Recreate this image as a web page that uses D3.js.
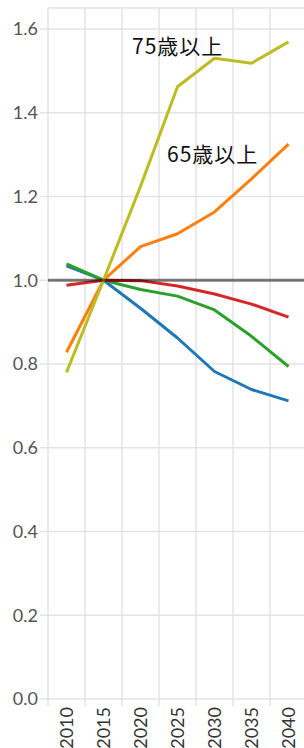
<!DOCTYPE html>
<html>
<head>
<meta charset="utf-8">
<script src="https://cdn.jsdelivr.net/npm/d3@7"></script>
<style>
  body { margin: 0; background: #fff; }
  svg { display: block; }
</style>
</head>
<body>
<svg id="chart" width="304" height="748"></svg>
<script>
const years = ["2010", "2015", "2020", "2025", "2030", "2035", "2040"];
const yTicks = [0, 0.2, 0.4, 0.6, 0.8, 1.0, 1.2, 1.4, 1.6];

const seriesBlue = [1.034, 1.0, 0.933, 0.862, 0.782, 0.739, 0.712];
const seriesOrange = [0.828, 1.0, 1.080, 1.111, 1.163, 1.242, 1.325];
const seriesGreen = [1.039, 1.0, 0.978, 0.962, 0.929, 0.866, 0.794];
const seriesRed = [0.988, 1.0, 0.999, 0.986, 0.967, 0.943, 0.912];
const seriesOlive = [0.780, 1.0, 1.224, 1.462, 1.530, 1.518, 1.569];

const seriesNames = ["blue", "orange", "green", "red", "olive"];
const seriesColors = ["#1f77b4", "#ff7f0e", "#2ca02c", "#d62728", "#bcbd22"];
const seriesValues = [seriesBlue, seriesOrange, seriesGreen, seriesRed, seriesOlive];

const labels = [
  {text: "75歳以上", year: "2020", value: 1.540, dx: 10},
  {text: "65歳以上", year: "2025", value: 1.282, dx: 8}
];

const svg = d3.select("#chart");
const plotLeft = 48, plotRight = 307, plotTop = 8, plotBottom = 699;

const x = d3.scaleBand().domain(years).range([plotLeft, plotRight]).padding(0);
const y = d3.scaleLinear().domain([0, 1.65]).range([plotBottom, plotTop]);

// grid
const grid = svg.append("g").attr("stroke", "#e3e3e3").attr("stroke-width", 1.5);
years.forEach(yr => {
  grid.append("line")
    .attr("x1", x(yr)).attr("x2", x(yr))
    .attr("y1", plotTop).attr("y2", plotBottom + 7);
});
yTicks.forEach(t => {
  grid.append("line")
    .attr("x1", plotLeft - 8).attr("x2", 304)
    .attr("y1", y(t)).attr("y2", y(t));
});
grid.append("line")
  .attr("x1", plotLeft).attr("x2", 304)
  .attr("y1", plotTop).attr("y2", plotTop);

// y labels
svg.append("g").selectAll("text")
  .data(yTicks)
  .enter()
  .append("text")
  .attr("x", plotLeft - 10)
  .attr("y", d => y(d))
  .attr("dy", "0.36em")
  .attr("text-anchor", "end")
  .style("font-family", "Lato, sans-serif")
  .style("font-size", "18px")
  .attr("fill", "#555")
  .text(d => d.toFixed(1));

// x labels
svg.append("g").selectAll("text")
  .data(years)
  .enter()
  .append("text")
  .attr("transform", d => "translate(" + (x(d) + x.bandwidth() / 2) + "," + (plotBottom + 8) + ")rotate(-90)")
  .attr("dy", "0.36em")
  .attr("text-anchor", "end")
  .style("font-family", "Lato, sans-serif")
  .style("font-size", "18px")
  .attr("fill", "#333")
  .text(d => d);

// lines
const line = d3.line()
  .x((d, i) => x(years[i]) + x.bandwidth() / 2)
  .y(d => y(d));

seriesValues.forEach((vals, i) => {
  svg.append("path")
    .datum(vals)
    .attr("class", "series-" + seriesNames[i])
    .attr("fill", "none")
    .attr("stroke", seriesColors[i])
    .attr("stroke-width", 3)
    .attr("stroke-linejoin", "round")
    .attr("d", line);
});

// reference line at 1.0
svg.append("line")
  .attr("x1", plotLeft).attr("x2", 304)
  .attr("y1", y(1)).attr("y2", y(1))
  .attr("stroke", "#000")
  .attr("stroke-opacity", 0.5)
  .attr("stroke-width", 3);

// labels
labels.forEach(l => {
  svg.append("text")
    .attr("x", x(l.year) + l.dx)
    .attr("y", y(l.value))
    .style("font-family", "'Noto Sans CJK JP', sans-serif")
    .style("font-size", "21px")
    .style("letter-spacing", "1px")
    .attr("fill", "#111")
    .text(l.text);
});
</script>
</body>
</html>
